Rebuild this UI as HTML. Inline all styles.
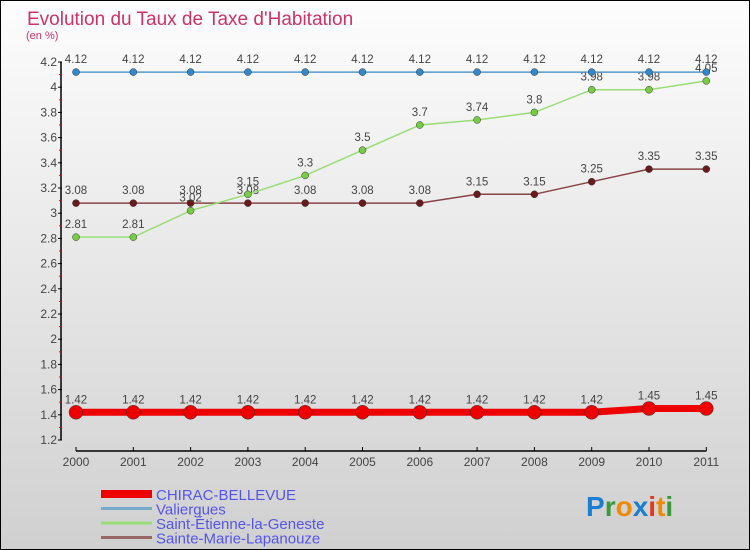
<!DOCTYPE html>
<html><head><meta charset="utf-8">
<style>
html,body{margin:0;padding:0}
body{width:750px;height:550px;overflow:hidden;font-family:"Liberation Sans",sans-serif}
#wrap{position:relative;width:748px;height:548px;border:1px solid #000;background:linear-gradient(#fdfdfd,#d0d0d0)}
</style></head><body>
<div id="wrap">
<svg id="chart" width="748" height="548" style="position:absolute;left:0;top:0">
<text x="26" y="24" font-size="19" fill="#cc3366">Evolution du Taux de Taxe d'Habitation</text>
<text x="25" y="38" font-size="11" fill="#cc3366">(en %)</text>
<g id="axes"></g>
<g id="series"></g>
<g id="legend"></g>
<text x="585" y="515" font-size="28" font-weight="bold"><tspan fill="#1a7fd4">P</tspan><tspan fill="#3a9a3a">r</tspan><tspan fill="#f08a00">o</tspan><tspan fill="#1a7fd4">x</tspan><tspan fill="#e03a1a">i</tspan><tspan fill="#f08a00">t</tspan><tspan fill="#3a9a3a">i</tspan></text>
</svg>
</div>
<script>
const years=[2000,2001,2002,2003,2004,2005,2006,2007,2008,2009,2010,2011];
const chirac=[1.42,1.42,1.42,1.42,1.42,1.42,1.42,1.42,1.42,1.42,1.45,1.45];
const valiergues=[4.12,4.12,4.12,4.12,4.12,4.12,4.12,4.12,4.12,4.12,4.12,4.12];
const stEtienne=[2.81,2.81,3.02,3.15,3.3,3.5,3.7,3.74,3.8,3.98,3.98,4.05];
const steMarie=[3.08,3.08,3.08,3.08,3.08,3.08,3.08,3.15,3.15,3.25,3.35,3.35];
const yTicks=[1.2,1.4,1.6,1.8,2,2.2,2.4,2.6,2.8,3,3.2,3.4,3.6,3.8,4,4.2];
const seriesNames=["CHIRAC-BELLEVUE","Valiergues","Saint-Étienne-la-Geneste","Sainte-Marie-Lapanouze"];

const NS="http://www.w3.org/2000/svg";
const X0=75,XS=57.3,Y0=439,YMIN=1.2,YS=126;
function xp(i){return X0+i*XS;}
function yp(v){return Y0-(v-YMIN)*YS;}
function mk(tag,attrs,parent){const e=document.createElementNS(NS,tag);for(const k in attrs)e.setAttribute(k,attrs[k]);parent.appendChild(e);return e;}
const axes=document.getElementById('axes'),ser=document.getElementById('series'),leg=document.getElementById('legend');

let yl=mk('line',{x1:60,x2:60,y1:yp(4.2),y2:yp(1.2),stroke:'#000','stroke-width':1.5},axes);


yTicks.forEach((t,i)=>{
  const y=yp(t);
  let tk=mk('line',{x1:57,x2:61,y1:y,y2:y,stroke:'#000'},axes);
  
  
  let lb=mk('text',{x:56,y:y+4,'font-size':12,fill:'#444','text-anchor':'end'},axes);
  lb.textContent=String(t);
  
  
  if(i<yTicks.length-1){
    let mt=mk('line',{x1:58,x2:61,y1:y-12.6,y2:y-12.6,stroke:'#e00'},axes);
    
    
  }
});
let xl=mk('line',{x1:xp(0),x2:xp(11),y1:450,y2:450,stroke:'#000','stroke-width':1.5},axes);


years.forEach((yr,i)=>{
  let tk=mk('line',{x1:xp(i),x2:xp(i),y1:446,y2:450,stroke:'#000'},axes);
  
  
  let lb=mk('text',{x:xp(i),y:465,'font-size':12,fill:'#444','text-anchor':'middle'},axes);
  lb.textContent=String(yr);
  
  
});

function draw(vals,color,width,r,dot,name,fmt){
  const g=mk('g',{},ser);
  
  
  const pts=vals.map((v,i)=>xp(i)+','+yp(v)).join(' ');
  let pl=mk('polyline',{points:pts,fill:'none',stroke:color,'stroke-width':width},g);
  
  
  vals.forEach((v,i)=>{
    let c=mk('circle',{cx:xp(i),cy:yp(v),r:r,fill:dot,stroke:'#333','stroke-width':0.5},g);
    
    
    let t=mk('text',{x:xp(i),y:yp(v)-9,'font-size':11.5,fill:'#444','text-anchor':'middle'},g);
    t.textContent=fmt(v);
    
    
  });
}
const f2=v=>v.toFixed(2), fs=v=>String(v).replace(/\.(\d)$/,'.$10').replace(/^(\d)\.(\d\d)$/,(m,a,b)=>a+b);
draw(steMarie,'#884444',1.5,3.5,'#6a1a1a','sainte-marie',v=>f2(v));
draw(stEtienne,'#99dd77',1.5,3.5,'#77cc44','saint-etienne',v=>{const s=f2(v);return s.endsWith('0')?s.slice(0,-1):s;});
draw(valiergues,'#5599cc',1.5,3.5,'#3388cc','valiergues',v=>f2(v));
draw(chirac,'#ee0000',7,7,'#ee0000','chirac',v=>f2(v));

const lc=['#ee0000','#77aacc','#99dd77','#996666'],lw=[8,3,3,3];
seriesNames.forEach((n,i)=>{
  const y=493+i*14.5;
  let l=mk('line',{x1:100,x2:151,y1:y,y2:y,stroke:lc[i],'stroke-width':lw[i]},leg);
  
  
  let t=mk('text',{x:155,y:y+6,'font-size':15,fill:'#5555ee'},leg);
  t.textContent=n;
  
  
});
</script>
</body></html>
